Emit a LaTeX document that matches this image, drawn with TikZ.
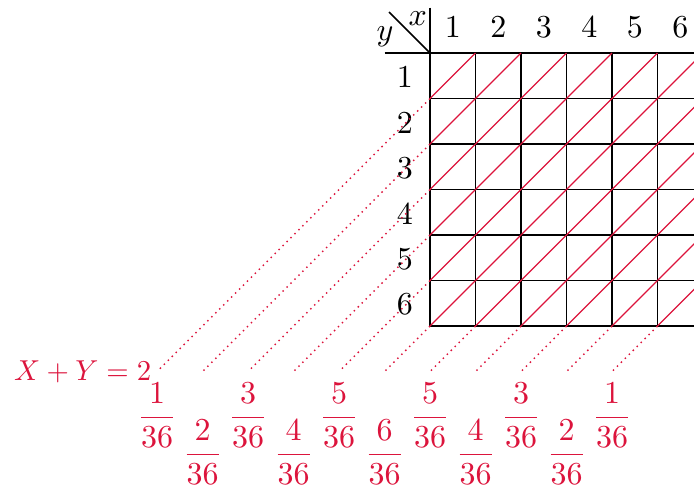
\documentclass[tikz,border=0pt]{standalone}
\usepackage{amsmath}
\usepackage{xcolor}
\usepackage{tikz}
\usetikzlibrary{calc}
\definecolor{sumred}{RGB}{220,20,60}

\begin{document}
\begin{tikzpicture}[
    gridline/.style={line width=1pt, black},
    diag/.style={line width=0.8pt, sumred},
    dots/.style={sumred, line width=0.9pt, dash pattern=on 0.9pt off 2.6pt},
    lab/.style={scale=2, inner sep=0.1667em},
    prob/.style={lab, text=sumred, inner sep=0pt}
  ]
  \useasboundingbox (-9.451,-9.560) rectangle (5.802,1.165);

  % --- HEADER ---
  \draw[gridline] (-1,0) -- (6,0);
  \draw[gridline] (0,1) -- (0,-6);
  \draw[gridline] (-0.9,0.9) -- (0,0);
  \node[lab] (xhead) at (-0.27,0.75) {$x$};
  \node[lab] (yhead) at (-0.99,0.35) {$y$};
  \foreach \i in {1,...,6} {
    \node[lab] (col\i) at (\i-0.5,0.57) {\i};
    \node[lab] (row\i) at (-0.55,-\i+0.47) {\i};
  }

  % --- GRID OF OUTCOMES ---
  \foreach \k in {1,...,6} {
    \draw[gridline] (0,-\k) -- (6,-\k);
    \draw[gridline] (\k,0) -- (\k,-6);
  }
  \foreach \i in {1,...,6}
    \foreach \j in {1,...,6}
      \draw[diag] (\i-1,-\j) -- (\i,-\j+1);

  % --- SUM LINES AND PROBABILITIES ---
  \foreach \s/\n in {2/1,3/2,4/3,5/4,6/5,7/6,8/5,9/4,10/3,11/2,12/1} {
    \ifnum\s<8
      \coordinate (start\s) at (0,-\s+1);
    \else
      \coordinate (start\s) at (\s-7,-6);
    \fi
    \coordinate (end\s) at (\s-8,-7);
    \draw[dots] (start\s) -- (end\s);
    \ifodd\s
      \node[prob] (frac\s) at (\s-8,-8.77) {$\dfrac{\n}{36}$};
    \else
      \node[prob] (frac\s) at (\s-8,-7.96) {$\dfrac{\n}{36}$};
    \fi
  }
  \node[lab, scale=0.9, text=sumred, left=0.15] (sumlab) at (end2) {$X+Y=2$};
\end{tikzpicture}
\end{document}
